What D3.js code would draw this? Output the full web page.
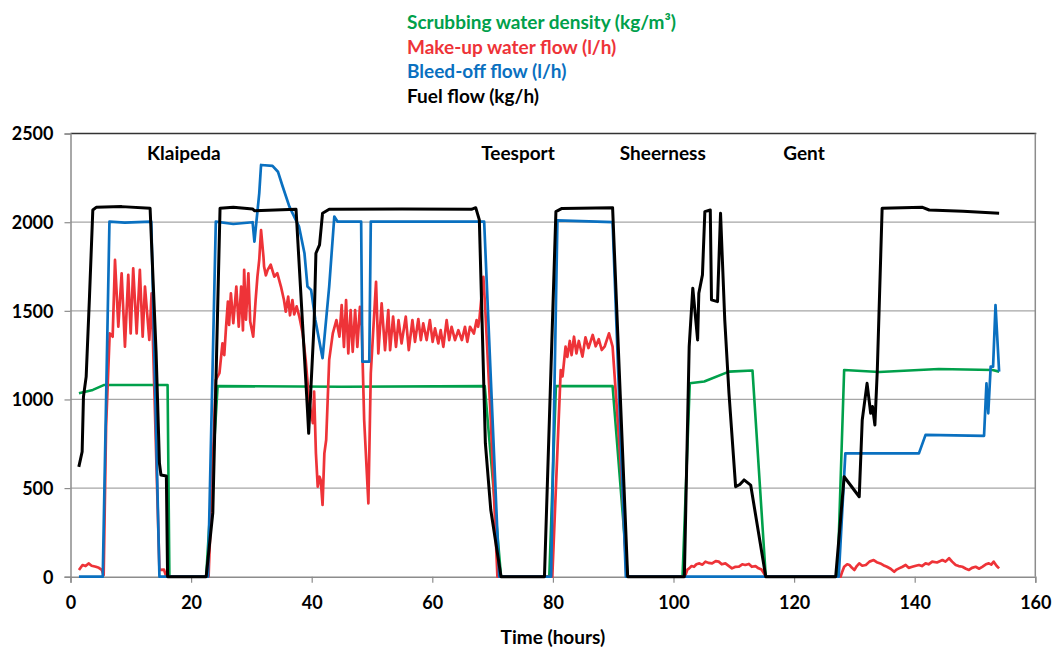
<!DOCTYPE html>
<html>
<head>
<meta charset="utf-8">
<script src="https://cdn.jsdelivr.net/npm/d3@7"></script>
<style>
  body { margin: 0; background: #fff; }
  svg { font-family: Lato, "Open Sans", sans-serif; font-weight: bold; }
</style>
</head>
<body>
<svg id="chart" width="1052" height="648"></svg>
<script>
// series, [time (h), value]
const density = [
  [1.4, 1035], [3.7, 1054], [5.6, 1082], [16.1, 1082], [16.4, 0], [22.5, 0],
  [24.4, 1075], [45, 1072], [68.7, 1075], [71.4, 0], [79.4, 0], [80.5, 1075],
  [89.9, 1075], [92.4, 0], [101.5, 0], [102.7, 1091], [105.1, 1101],
  [109.2, 1157], [113.1, 1163], [115.3, 0], [127.2, 0], [128.3, 1166],
  [134.1, 1155], [144.0, 1172], [152.9, 1166], [154.0, 1157],
];

const makeUp = [
  [1.4, 38], [1.7, 52], [2.0, 66], [2.5, 60], [3.0, 75], [3.5, 62],
  [4.2, 56], [4.7, 50], [5.2, 38], [5.5, 10],
  [5.9, 846], [6.5, 1373], [6.99, 1354], [7.38, 1787], [7.93, 1411],
  [8.48, 1712], [9.03, 1298], [9.58, 1703], [9.98, 1373], [10.4, 1740],
  [10.97, 1373], [11.5, 1731], [11.97, 1354], [12.35, 1637], [13.07, 1336],
  [13.45, 1599], [14.75, 38], [15.5, 40], [15.9, 0], [22.9, 0],
  [24.1, 1110], [24.7, 1148], [25.2, 1317], [25.5, 1250], [25.8, 1411],
  [26.1, 1552], [26.3, 1420], [26.6, 1599], [27.0, 1430], [27.5, 1637],
  [27.9, 1411], [28.3, 1637], [28.6, 1390], [28.8, 1731], [29.1, 1450],
  [29.5, 1712], [29.8, 1440], [30.3, 1354], [30.7, 1560], [31.0, 1693],
  [31.3, 1787], [31.6, 1956], [32.0, 1805], [32.1, 1750], [32.4, 1700],
  [32.7, 1731], [33.2, 1760], [33.8, 1693], [34.3, 1712], [34.9, 1637],
  [35.4, 1561], [35.7, 1495], [36.1, 1580], [36.4, 1475], [36.8, 1561],
  [37.1, 1480], [37.5, 1525], [37.95, 1467], [38.5, 1373], [39.0, 1223],
  [39.6, 979], [40.2, 866], [40.4, 1044], [40.7, 696], [41.0, 508],
  [41.3, 564], [41.5, 545], [41.8, 405], [42.1, 696], [42.4, 771],
  [42.9, 1223], [43.5, 1373], [44.1, 1448], [44.6, 1354], [44.97, 1532],
  [45.35, 1297], [45.7, 1561], [46.07, 1260], [46.46, 1504], [46.8, 1269],
  [47.2, 1504], [47.57, 1297], [48.0, 1523], [48.3, 1411], [48.7, 884],
  [49.4, 414], [49.8, 1148], [50.67, 1664], [51.05, 1260], [51.6, 1542],
  [52.16, 1278], [52.7, 1504], [53.0, 1278], [53.5, 1467], [53.98, 1297],
  [54.4, 1448], [54.9, 1316], [55.6, 1467], [56.1, 1278], [56.7, 1448],
  [57.13, 1325], [57.68, 1454], [58.1, 1335], [58.5, 1429], [59.06, 1335],
  [59.6, 1448], [60.06, 1325], [60.45, 1401], [61.0, 1316], [61.39, 1391],
  [61.83, 1297], [62.38, 1448], [62.8, 1335], [63.2, 1410], [63.77, 1335],
  [64.32, 1391], [64.9, 1335], [65.42, 1410], [65.81, 1325], [66.25, 1410],
  [66.9, 1372], [67.35, 1448], [67.6, 1410], [67.8, 1449], [68.47, 1692],
  [68.8, 1500], [69.7, 884], [70.8, 0], [79.9, 0], [80.8, 753],
  [81.3, 1166], [81.6, 1130], [82.1, 1298], [82.4, 1240], [82.8, 1330],
  [83.1, 1250], [83.5, 1354], [83.9, 1260], [84.3, 1330], [84.9, 1242],
  [85.4, 1350], [85.9, 1290], [86.6, 1364], [87.1, 1300], [87.6, 1340],
  [88.1, 1279], [88.6, 1300], [89.3, 1373], [89.9, 1298], [91.5, 508],
  [92.2, 0], [101.8, 0], [102.0, 10], [102.3, 40], [102.6, 47], [103.0, 60],
  [103.4, 56], [103.8, 70], [104.3, 75], [104.8, 68], [105.3, 85],
  [105.8, 78], [106.4, 75], [107.0, 88], [107.5, 85], [108.0, 70],
  [108.6, 75], [109.2, 60], [109.7, 47], [110.2, 55], [110.8, 56],
  [111.4, 70], [111.9, 66], [112.5, 72], [113.0, 56], [113.6, 60],
  [114.1, 47], [114.6, 40], [115.0, 19], [115.3, 0],
  [127.7, 0], [128.0, 30], [128.3, 56], [128.8, 70], [129.2, 66],
  [129.6, 50], [130.0, 38], [130.4, 60], [130.8, 75], [131.3, 62],
  [131.9, 66], [132.5, 85], [133.2, 94], [133.7, 82], [134.3, 75],
  [134.8, 65], [135.4, 56], [136.0, 45], [136.6, 28], [137.0, 40],
  [137.4, 47], [137.9, 55], [138.5, 66], [139.0, 50], [139.6, 56],
  [140.2, 62], [140.7, 66], [141.2, 60], [141.8, 75], [142.3, 70],
  [142.9, 85], [143.7, 80], [144.6, 94], [145.1, 85], [145.7, 104],
  [146.2, 85], [146.8, 66], [147.3, 60], [147.9, 56], [148.5, 45],
  [149.0, 38], [149.5, 50], [150.1, 56], [150.7, 45], [151.2, 56],
  [151.8, 70], [152.3, 75], [152.7, 68], [153.1, 85], [153.6, 60],
  [154.0, 47],
];

const bleedOff = [
  [1.4, 0], [5.35, 0], [6.46, 2003], [9.0, 1998], [13.4, 2003], [14.75, 0],
  [22.8, 0], [24.1, 2003], [27.0, 1990], [30.2, 2000], [30.5, 1890],
  [31.3, 2163], [31.6, 2323], [33.5, 2318], [34.4, 2285], [35.2, 2200],
  [36.3, 2088], [37.9, 1975], [38.8, 1825], [39.3, 1637], [39.9, 1618],
  [40.6, 1450], [41.8, 1233], [42.9, 1637], [43.75, 2032], [44.3, 2003],
  [48.2, 2003], [48.4, 1213], [49.55, 1213], [49.8, 2003], [68.6, 2003],
  [71.1, 0], [79.7, 0], [80.75, 2010], [89.9, 2000], [92.1, 0], [127.4, 0],
  [128.5, 696], [140.7, 696], [141.8, 800], [151.5, 795], [151.9, 1091],
  [152.2, 922], [152.6, 1185], [153.0, 1185], [153.4, 1533], [154.0, 1157],
];

const fuelFlow = [
  [1.38, 620], [1.93, 705], [2.15, 1016], [2.6, 1129], [3.15, 1580],
  [3.7, 2069], [4.26, 2084], [8.5, 2088], [13.2, 2079], [14.2, 1260],
  [14.75, 640], [15.0, 574], [15.9, 568], [16.1, 0], [22.5, 0],
  [23.6, 360], [24.8, 2079], [27.0, 2085], [30.2, 2075], [30.5, 2065],
  [37.4, 2073], [39.3, 940], [39.5, 809], [40.4, 1430], [40.7, 1825],
  [41.3, 1872], [41.8, 2051], [42.9, 2073], [55, 2075], [66.5, 2073],
  [67.2, 2082], [67.8, 2013], [68.8, 753], [69.7, 376], [71.4, 0],
  [78.6, 0], [80.5, 2060], [81.5, 2078], [89.9, 2082], [92.4, 0],
  [101.8, 0], [102.6, 1298], [103.2, 1628], [104.0, 1336], [104.2, 1599],
  [104.8, 1703], [105.2, 2060], [106.1, 2069], [106.3, 1562],
  [107.3, 1552], [107.8, 2051], [108.5, 1449], [109.2, 1035],
  [110.3, 508], [111.0, 520], [111.7, 546], [112.8, 517], [115.3, 0],
  [126.9, 0], [128.3, 564], [130.8, 451], [131.3, 884], [132.1, 1091],
  [132.7, 922], [133.0, 960], [133.4, 856], [133.8, 1166], [134.6, 2079],
  [141.3, 2084], [142.4, 2069], [148, 2062], [154.0, 2051],
];

const yTicks = [0, 500, 1000, 1500, 2000, 2500];
const xTicks = [0, 20, 40, 60, 80, 100, 120, 140, 160];

const ports = [
  { name: 'Klaipeda', t: 12.7 },
  { name: 'Teesport', t: 68.1 },
  { name: 'Sheerness', t: 91.1 },
  { name: 'Gent', t: 118.2 },
];

const legendItems = [
  { label: 'Scrubbing water density (kg/m³)', color: '#00A04B' },
  { label: 'Make-up water flow (l/h)', color: '#EE3338' },
  { label: 'Bleed-off flow (l/h)', color: '#0A70C0' },
  { label: 'Fuel flow (kg/h)', color: '#000000' },
];

const svg = d3.select('#chart');
const plotLeft = 70.5, plotRight = 1035.3, plotTop = 133.6, plotBottom = 576.7;

const x = d3.scaleLinear().domain([0, 160]).range([plotLeft, plotRight]);
const y = d3.scaleLinear().domain([0, 2500]).range([plotBottom, plotTop]);

// gridlines
svg.append('g')
  .selectAll('line')
  .data(yTicks.filter((d) => d > 0 && d < 2500))
  .join('line')
  .attr('x1', plotLeft).attr('x2', plotRight)
  .attr('y1', (d) => y(d)).attr('y2', (d) => y(d))
  .attr('stroke', '#A6A6A6').attr('stroke-width', 1.2);

// plot frame: dark top, grey right
svg.append('line')
  .attr('x1', plotLeft).attr('x2', plotRight + 1).attr('y1', plotTop).attr('y2', plotTop)
  .attr('stroke', '#333').attr('stroke-width', 1.5);
svg.append('line')
  .attr('x1', plotRight).attr('x2', plotRight).attr('y1', plotTop).attr('y2', plotBottom)
  .attr('stroke', '#8C8C8C').attr('stroke-width', 1.5);

// axes
const yAxis = svg.append('g')
  .attr('transform', `translate(${plotLeft},0)`)
  .call(d3.axisLeft(y).tickValues(yTicks).tickFormat(d3.format('d'))
    .tickSize(6).tickPadding(11));
const xAxis = svg.append('g')
  .attr('transform', `translate(0,${plotBottom})`)
  .call(d3.axisBottom(x).tickValues(xTicks).tickFormat(d3.format('d'))
    .tickSize(6).tickPadding(14));

[yAxis, xAxis].forEach((g) => {
  g.select('.domain').attr('stroke', '#8C8C8C').attr('stroke-width', 1.5);
  g.selectAll('.tick line').attr('stroke', '#8C8C8C').attr('stroke-width', 1.2);
  g.selectAll('.tick text')
    .attr('fill', '#000')
    .style('font-size', '18px')
    .style('font-family', 'Lato, sans-serif')
    .style('font-weight', 'bold');
});
yAxis.selectAll('.tick text').attr('dy', '0.35em');
xAxis.selectAll('.tick text').attr('dy', '0.71em');

svg.append('text')
  .attr('x', (plotLeft + plotRight) / 2)
  .attr('y', 644)
  .attr('text-anchor', 'middle')
  .style('font-size', '19px')
  .text('Time (hours)');

// series, bottom to top
const line = d3.line().x((d) => x(d[0])).y((d) => y(d[1]));
const series = [
  { data: density, color: legendItems[0].color, width: 2.6 },
  { data: makeUp, color: legendItems[1].color, width: 2.7 },
  { data: bleedOff, color: legendItems[2].color, width: 2.7 },
  { data: fuelFlow, color: legendItems[3].color, width: 3 },
];
series.forEach((s) => {
  svg.append('path')
    .attr('d', line(s.data))
    .attr('fill', 'none')
    .attr('stroke', s.color)
    .attr('stroke-width', s.width)
    .attr('stroke-linejoin', 'round');
});

// port labels
svg.append('g')
  .selectAll('text')
  .data(ports)
  .join('text')
  .attr('x', (d) => x(d.t))
  .attr('y', 160)
  .style('font-size', '19px')
  .text((d) => d.name);

// legend
svg.append('g')
  .selectAll('text')
  .data(legendItems)
  .join('text')
  .attr('x', 407)
  .attr('y', (d, i) => 29 + i * 24.7)
  .attr('fill', (d) => d.color)
  .style('font-size', '19px')
  .text((d) => d.label);
</script>
</body>
</html>
